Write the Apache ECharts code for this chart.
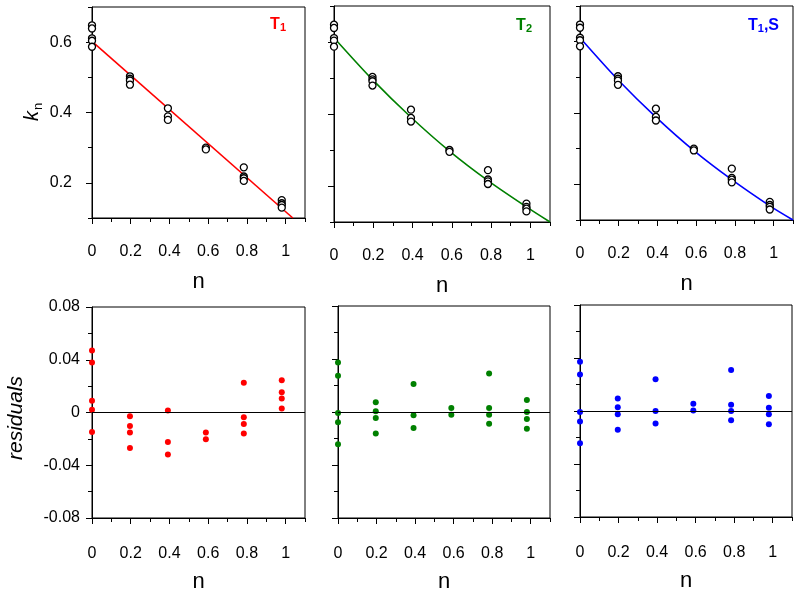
<!DOCTYPE html>
<html><head><meta charset="utf-8">
<script src="https://cdn.jsdelivr.net/npm/echarts@6/dist/echarts.min.js"></script>
<style>html,body{margin:0;padding:0;background:#fff}#c{width:800px;height:592px}</style>
</head><body><div id="c"></div>
<script>
// ---- data ----
const nLevels = [0, 0.196, 0.392, 0.588, 0.784, 0.98];
const knObs = [
  [0.648, 0.639, 0.611, 0.604, 0.587],
  [0.503, 0.496, 0.491, 0.479],
  [0.412, 0.389, 0.379],
  [0.300, 0.295],
  [0.244, 0.218, 0.213, 0.2055],
  [0.151, 0.142, 0.137, 0.1295]
];
const residT1 = [
  [0.047, 0.038, 0.009, 0.002, -0.0147],
  [-0.0028, -0.0102, -0.0152, -0.0269],
  [0.0015, -0.0223, -0.0319],
  [-0.0152, -0.0203],
  [0.0225, -0.0036, -0.0087, -0.016],
  [0.0245, 0.0154, 0.0106, 0.003]
];
const residT2 = [
  [0.0374, 0.0274, -0.0008, -0.0078, -0.0244],
  [0.0073, 0.0005, -0.0045, -0.0163],
  [0.0211, -0.0025, -0.012],
  [0.003, -0.002],
  [0.0291, 0.003, -0.002, -0.0088],
  [0.009, 0, -0.0053, -0.0126]
];
const residT1S = [
  [0.0372, 0.0276, -0.0008, -0.008, -0.0244],
  [0.0095, 0.0028, -0.0025, -0.0141],
  [0.0239, 0, -0.0095],
  [0.0055, 0.0003],
  [0.0309, 0.0048, 0, -0.007],
  [0.0113, 0.0025, -0.0025, -0.01]
];
const fitT1N = [0, 1.037];
const fitT1K = [0.602, 0.1];
const fitCurveN = [0, 0.196, 0.392, 0.588, 0.784, 0.98, 1.1];
const fitT2K = [0.612, 0.4955, 0.391, 0.297, 0.215, 0.142, 0.1];
const fitT1SK = [0.611, 0.4933, 0.3885, 0.2946, 0.213, 0.1396, 0.1];
const xTickLabels = [0, 0.2, 0.4, 0.6, 0.8, 1];
const kTickLabels = [0.2, 0.4, 0.6];
const rTickLabels = [-0.08, -0.04, 0, 0.04, 0.08];
const colors = ['#ff0000', '#008000', '#0000ff'];

// ---- build ----
const FONT = '"Liberation Sans", Arial, sans-serif';
const pairs = (groups) => { const out = []; groups.forEach((g, i) => g.forEach(v => out.push([nLevels[i], v]))); return out; };
const zip = (a, b) => a.map((v, i) => [v, b[i]]);

const gridDefs = [
  {left: 92, top: 7, width: 213, height: 211},
  {left: 334, top: 6, width: 216, height: 216},
  {left: 580, top: 6, width: 213, height: 214},
  {left: 92, top: 307, width: 213, height: 211},
  {left: 338, top: 306, width: 212, height: 212},
  {left: 580, top: 305, width: 212, height: 212}
];
const grid = gridDefs.map(g => Object.assign({show: true, borderColor: '#000', borderWidth: 1, backgroundColor: 'transparent', outerBoundsMode: 'none'}, g));

const xAxis = [], yAxis = [], series = [];
const black = {color: '#000', width: 1};
gridDefs.forEach((g, i) => {
  const top = i < 3;
  const xi = xAxis.length;
  xAxis.push({
    type: 'value', gridIndex: i, position: 'bottom', min: 0, max: 1.1, interval: 0.1,
    axisLine: {show: true, onZero: false, lineStyle: black}, axisTick: {show: true, inside: false, length: 4, lineStyle: black},
    axisLabel: {customValues: xTickLabels, fontSize: 16, color: '#000', fontFamily: FONT, margin: top ? 26 : 28},
    splitLine: {show: false},
    name: 'n', nameLocation: 'middle', nameGap: 53,
    nameTextStyle: {fontSize: 22, color: '#000', fontFamily: FONT}
  });
  xAxis.push({
    type: 'value', gridIndex: i, position: 'bottom', min: 0, max: 1.1, interval: 0.1,
    axisLine: {show: false, onZero: false}, axisTick: {show: true, inside: false, length: 6, lineStyle: black, customValues: xTickLabels},
    axisLabel: {show: false}, splitLine: {show: false}
  });
  const yi = yAxis.length;
  const ymin = top ? 0.1 : -0.08, ymax = top ? 0.7 : 0.08, yint = top ? 0.1 : 0.02;
  const ylab = top ? kTickLabels : rTickLabels;
  yAxis.push({
    type: 'value', gridIndex: i, position: 'left', min: ymin, max: ymax, interval: yint,
    axisLine: {show: true, onZero: false, lineStyle: black}, axisTick: {show: true, inside: false, length: 4, lineStyle: black},
    axisLabel: {show: i === 0 || i === 3, customValues: ylab, fontSize: 16, color: '#000', fontFamily: FONT, margin: top ? 20 : 12},
    splitLine: {show: false}
  });
  yAxis.push({
    type: 'value', gridIndex: i, position: 'left', min: ymin, max: ymax, interval: yint,
    axisLine: {show: false, onZero: false}, axisTick: {show: true, inside: false, length: 6, lineStyle: black, customValues: ylab},
    axisLabel: {show: false}, splitLine: {show: false}
  });
  const c = colors[i % 3];
  if (top) {
    const lineData = i === 0 ? zip(fitT1N, fitT1K) : zip(fitCurveN, i === 1 ? fitT2K : fitT1SK);
    series.push({
      type: 'line', xAxisIndex: xi, yAxisIndex: yi, data: lineData, showSymbol: false,
      smooth: i === 0 ? false : 0.3, lineStyle: {color: c, width: 1.6}, z: 2, silent: true, animation: false
    });
    series.push({
      type: 'scatter', xAxisIndex: xi, yAxisIndex: yi, data: pairs(knObs), symbol: 'circle', symbolSize: 7,
      itemStyle: {color: '#fff', borderColor: '#000', borderWidth: 1.3, opacity: 1}, z: 3, clip: false, animation: false
    });
  } else {
    const r = [residT1, residT2, residT1S][i - 3];
    series.push({
      type: 'scatter', xAxisIndex: xi, yAxisIndex: yi, data: pairs(r), symbol: 'circle', symbolSize: 6,
      itemStyle: {color: c, opacity: 1}, z: 3, clip: false, animation: false,
      markLine: {silent: true, symbol: 'none', label: {show: false}, lineStyle: {color: '#000', width: 1, type: 'solid'},
        data: [{yAxis: 0}], animation: false}
    });
  }
});

function title(rightX, y, parts, color) {
  const rich = {
    a: {fontSize: 16, fontWeight: 'bold', fill: color, fontFamily: FONT, verticalAlign: 'bottom'},
    b: {fontSize: 11, fontWeight: 'bold', fill: color, fontFamily: FONT, verticalAlign: 'bottom'}
  };
  return {type: 'text', x: rightX, y: y, style: {text: parts, rich: rich, fill: color, align: 'right', verticalAlign: 'middle', font: 'bold 16px ' + FONT}, z: 10};
}

const graphic = [
  title(286, 25, '{a|T}{b|1}', colors[0]),
  title(532, 26, '{a|T}{b|2}', colors[1]),
  title(779, 26, '{a|T}{b|1}{a|,S}', colors[2]),
  {type: 'text', x: 33, y: 112, rotation: Math.PI / 2, z: 10,
    style: {text: '{k|k}{n|n}', align: 'center', verticalAlign: 'middle', fill: '#000',
      rich: {k: {fontSize: 20, fontStyle: 'italic', fontFamily: FONT, fill: '#000', lineHeight: 22, verticalAlign: 'top'},
             n: {fontSize: 13, fontFamily: FONT, fill: '#000', lineHeight: 13, verticalAlign: 'top', padding: [10, 0, 0, 1]}}}},
  {type: 'text', x: 16, y: 418, rotation: Math.PI / 2, z: 10,
    style: {text: 'residuals', align: 'center', verticalAlign: 'middle', fill: '#000', font: 'italic 21px ' + FONT}}
];

const chart = echarts.init(document.getElementById('c'), null, {renderer: 'canvas'});
chart.setOption({animation: false, backgroundColor: '#fff', grid, xAxis, yAxis, series, graphic});
</script></body></html>
